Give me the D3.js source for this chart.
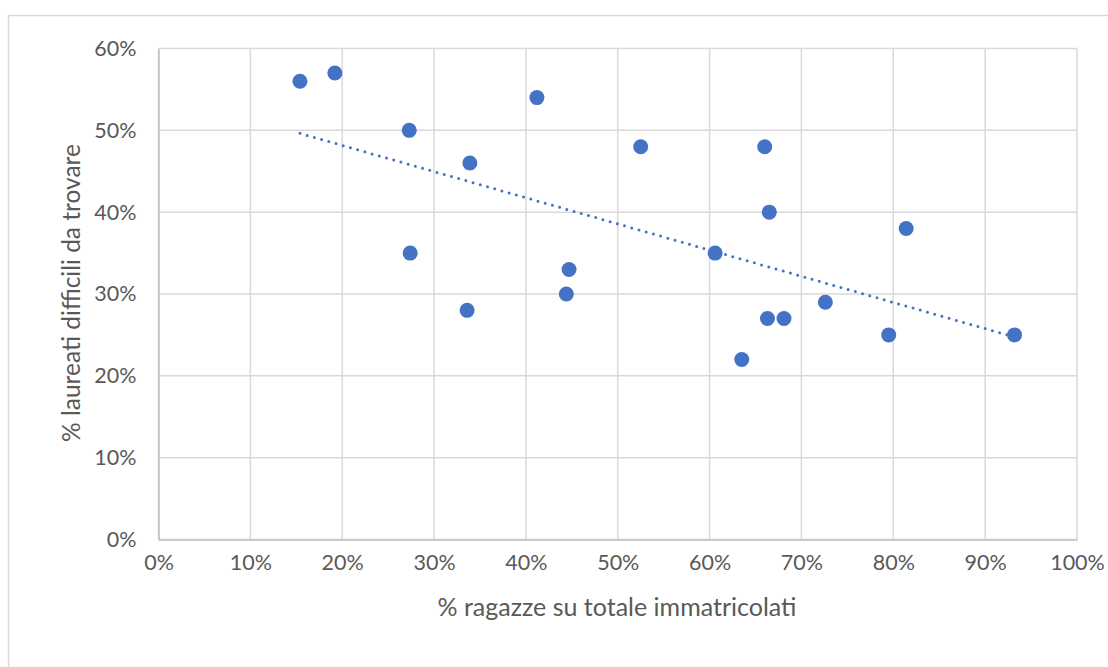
<!DOCTYPE html>
<html>
<head>
<meta charset="utf-8">
<script src="https://cdn.jsdelivr.net/npm/d3@7"></script>
<style>
  html, body { margin: 0; padding: 0; background: #fff; }
  svg { display: block; }
  text { font-family: Lato, "Open Sans", sans-serif; fill: #595959; }
</style>
</head>
<body>
<svg id="chart" width="1108" height="667"></svg>
<script>
// Share of female enrolments (x) vs share of graduates hard to find (y), in %
const ragazze = [15.4, 19.2, 27.3, 27.4, 33.6, 33.9, 41.2, 44.7, 44.4, 52.5,
                 60.6, 63.5, 66.0, 66.5, 66.3, 68.1, 72.6, 81.4, 79.5, 93.2];
const laureati = [56, 57, 50, 35, 28, 46, 54, 33, 30, 48,
                  35, 22, 48, 40, 27, 27, 29, 38, 25, 25];
const xTicks = [0, 10, 20, 30, 40, 50, 60, 70, 80, 90, 100];
const yTicks = [0, 10, 20, 30, 40, 50, 60];
const xTitle = "% ragazze su totale immatricolati";
const yTitle = "% laureati difficili da trovare";

const svg = d3.select("#chart");
const plot = { left: 158.5, top: 48.5, right: 1077, bottom: 539.5 };

const x = d3.scaleLinear().domain([0, 100]).range([plot.left, plot.right]);
const y = d3.scaleLinear().domain([0, 60]).range([plot.bottom, plot.top]);

// chart frame
svg.append("line").attr("x1", 8.5).attr("x2", 1108).attr("y1", 15.5).attr("y2", 15.5)
  .attr("stroke", "#d9d9d9").attr("stroke-width", 1.5);
svg.append("line").attr("x1", 8.5).attr("x2", 8.5).attr("y1", 15.5).attr("y2", 667)
  .attr("stroke", "#d9d9d9").attr("stroke-width", 1.5);

// gridlines
svg.append("g").selectAll("line").data(xTicks).join("line")
  .attr("x1", d => x(d)).attr("x2", d => x(d))
  .attr("y1", plot.top).attr("y2", plot.bottom)
  .attr("stroke", "#d9d9d9").attr("stroke-width", 1.5);
svg.append("g").selectAll("line").data(yTicks).join("line")
  .attr("x1", plot.left).attr("x2", plot.right)
  .attr("y1", d => y(d)).attr("y2", d => y(d))
  .attr("stroke", "#d9d9d9").attr("stroke-width", 1.5);

// axes
const fmt = d => d + "%";
const xAxis = svg.append("g").attr("transform", `translate(0,${plot.bottom})`)
  .call(d3.axisBottom(x).tickValues(xTicks).tickFormat(fmt).tickSize(0).tickPadding(15));
const yAxis = svg.append("g").attr("transform", `translate(${plot.left},0)`)
  .call(d3.axisLeft(y).tickValues(yTicks).tickFormat(fmt).tickSize(0).tickPadding(22));
[xAxis, yAxis].forEach(a => {
  a.select(".domain").attr("stroke", "#bfbfbf").attr("stroke-width", 1.5);
  a.selectAll("text").style("font-size", "21.5px").attr("fill", "#595959");
});

// axis titles
svg.append("text").attr("x", 617).attr("y", 616).attr("text-anchor", "middle")
  .style("font-size", "25px").text(xTitle);
svg.append("text").attr("transform", "translate(80,293) rotate(-90)")
  .attr("text-anchor", "middle").style("font-size", "24.5px").text(yTitle);

// linear trendline (least squares)
const n = ragazze.length;
const mx = d3.mean(ragazze), my = d3.mean(laureati);
let sxy = 0, sxx = 0;
for (let i = 0; i < n; i++) {
  sxy += (ragazze[i] - mx) * (laureati[i] - my);
  sxx += (ragazze[i] - mx) ** 2;
}
const slope = sxy / sxx, icpt = my - slope * mx;
const [x0, x1] = d3.extent(ragazze);
svg.append("line")
  .attr("x1", x(x0)).attr("y1", y(icpt + slope * x0))
  .attr("x2", x(x1)).attr("y2", y(icpt + slope * x1))
  .attr("stroke", "#4472c4").attr("stroke-width", 3)
  .attr("stroke-dasharray", "0 7.5").attr("stroke-linecap", "round");

// points
svg.append("g").selectAll("circle").data(d3.range(n)).join("circle")
  .attr("cx", i => x(ragazze[i])).attr("cy", i => y(laureati[i]))
  .attr("r", 7.5).attr("fill", "#4472c4");
</script>
</body>
</html>
